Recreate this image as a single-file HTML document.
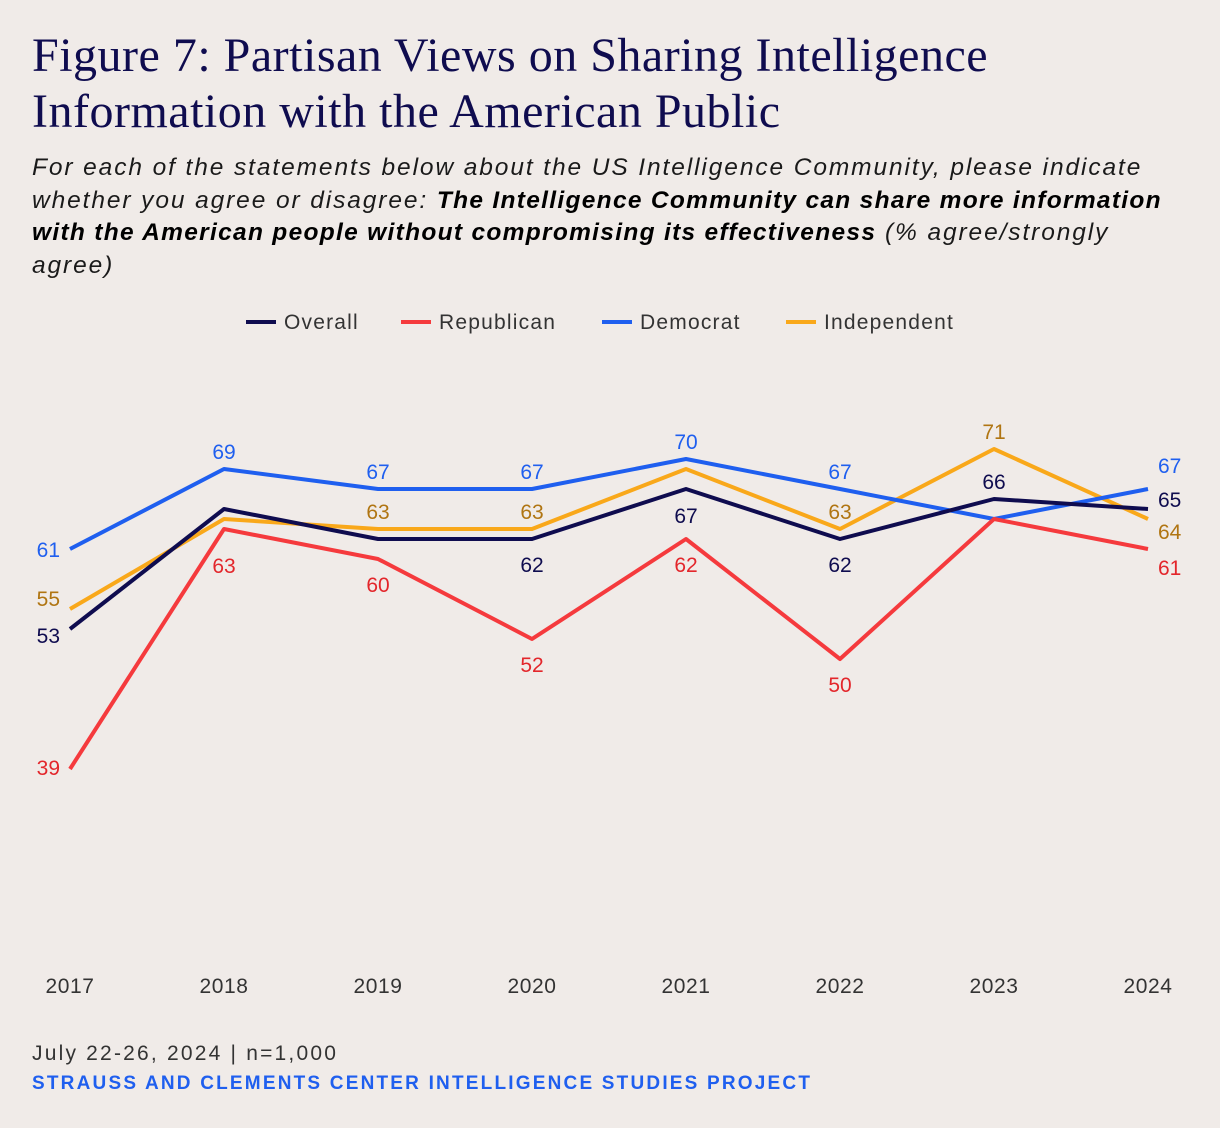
<!DOCTYPE html>
<html><head><meta charset="utf-8"><style>
body{margin:0;background:#f0ebe8;width:1220px;height:1128px;overflow:hidden;font-family:"Liberation Sans",sans-serif}
#title{position:absolute;left:32px;top:28px;font-family:"Liberation Serif",serif;font-size:48px;line-height:56px;color:#0f0c4f;letter-spacing:0.5px;white-space:nowrap}
#sub{position:absolute;left:32px;top:152px;width:1180px;font-size:24.5px;line-height:32.5px;font-style:italic;color:#1a1a1a;letter-spacing:1.9px;white-space:nowrap}
#sub b{font-weight:bold;color:#000;letter-spacing:1.3px}
#foot1{position:absolute;left:32px;top:1042px;font-size:21px;color:#333;letter-spacing:2.2px}
#foot2{position:absolute;left:32px;top:1073px;font-size:19px;font-weight:bold;color:#1f5fef;letter-spacing:2.2px}
svg{position:absolute;left:0;top:0}
</style></head><body>
<div id="title">Figure 7: Partisan Views on Sharing Intelligence<br>Information with the American Public</div>
<div id="sub">For each of the statements below about the US Intelligence Community, please indicate<br>whether you agree or disagree: <b>The Intelligence Community can share more information</b><br><b>with the American people without compromising its effectiveness</b> (% agree/strongly<br>agree)</div>
<div id="foot1">July 22-26, 2024 | n=1,000</div>
<div id="foot2">STRAUSS AND CLEMENTS CENTER INTELLIGENCE STUDIES PROJECT</div>
<svg id="chart" width="1220" height="1128"></svg>
<script>
const years=["2017","2018","2019","2020","2021","2022","2023","2024"];
const overall=[53,65,62,62,67,62,66,65];
const republican=[39,63,60,52,62,50,64,61];
const democrat=[61,69,67,67,70,67,64,67];
const independent=[55,64,63,63,69,63,71,64];
const seriesList=[
 {name:"Overall",key:"overall",data:overall,color:"#0f0c4f",lab:"#0f0c4f",
  pos:[[-10,14,"end"],null,null,[0,33,"middle"],[0,34,"middle"],[0,33,"middle"],[0,-10,"middle"],[10,-2,"start"]]},
 {name:"Republican",key:"republican",data:republican,color:"#f53a3d",lab:"#e3262b",
  pos:[[-10,6,"end"],[0,44,"middle"],[0,33,"middle"],[0,33,"middle"],[0,33,"middle"],[0,33,"middle"],null,[10,26,"start"]]},
 {name:"Democrat",key:"democrat",data:democrat,color:"#1f5fef",lab:"#1f5fef",
  pos:[[-10,8,"end"],[0,-10,"middle"],[0,-10,"middle"],[0,-10,"middle"],[0,-10,"middle"],[0,-10,"middle"],null,[10,-16,"start"]]},
 {name:"Independent",key:"independent",data:independent,color:"#f9a81a",lab:"#b07512",
  pos:[[-10,-3,"end"],null,[0,-10,"middle"],[0,-10,"middle"],null,[0,-10,"middle"],[0,-10,"middle"],[10,20,"start"]]}
];
const NS="http://www.w3.org/2000/svg";
const svg=document.getElementById('chart');
function xS(i){return 70+i*154;}
function yS(v){return 1159-10*v;}
function mk(t,a,p){const e=document.createElementNS(NS,t);for(const k in a)e.setAttribute(k,a[k]);(p||svg).appendChild(e);return e;}
const legX=[246,401,602,786];
seriesList.forEach((s,i)=>{
 const l=mk('line',{x1:legX[i],x2:legX[i]+30,y1:322,y2:322,stroke:s.color,'stroke-width':4});
 
 
 const t=mk('text',{x:legX[i]+38,y:329,'font-size':21,fill:'#333','letter-spacing':1.2});t.textContent=s.name;
 
 
});
years.forEach((y,i)=>{
 const t=mk('text',{x:xS(i),y:993,'font-size':21,fill:'#333','text-anchor':'middle','letter-spacing':0.6});t.textContent=y;
 
 
});
[3,2,1,0].forEach(si=>{
 const s=seriesList[si];
 const p=mk('polyline',{points:s.data.map((v,i)=>xS(i)+','+yS(v)).join(' '),fill:'none',stroke:s.color,'stroke-width':4,'stroke-linejoin':'round'});
 
 
});
seriesList.forEach(s=>{
 s.data.forEach((v,i)=>{
  const o=s.pos[i];if(!o)return;
  const t=mk('text',{x:xS(i)+o[0],y:yS(v)+o[1],'font-size':21,fill:s.lab,'text-anchor':o[2]});
  t.textContent=v;
  
  
 });
});
</script>
</body></html>
